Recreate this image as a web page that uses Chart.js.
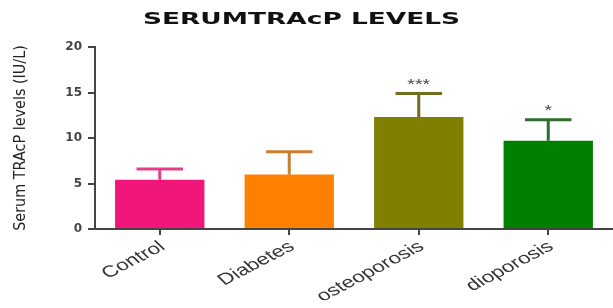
<!DOCTYPE html>
<html><head><meta charset="utf-8">
<script src="https://cdn.jsdelivr.net/npm/chart.js@4"></script>
<style>html,body{margin:0;padding:0;background:#fff}#wrap{width:613px;height:308px}</style>
</head><body><div id="wrap"><canvas id="c" width="613" height="308"></canvas></div>
<script>
const titleText = 'SERUMTRAcP LEVELS';
const yAxisTitle = 'Serum TRAcP levels (IU/L)';
const categories = ['Control', 'Diabetes', 'osteoporosis', 'dioporosis'];
const means = [5.4, 6.0, 12.3, 9.7];
const errors = [1.2, 2.5, 2.6, 2.3];
const significance = ['', '', '***', '*'];
const yTicks = [0, 5, 10, 15, 20];
const barColors = ['#f0167a', '#ff8000', '#808000', '#008000'];
const errColors = ['#e0408a', '#c88030', '#6e6e1e', '#2e6e2e'];

const extras = {
  id: 'extras',
  afterDatasetsDraw(chart) {
    const ctx = chart.ctx;
    const ys = chart.scales.y;
    const meta = chart.getDatasetMeta(0);
    meta.data.forEach((bar, i) => {
      const top = ys.getPixelForValue(means[i] + errors[i]);
      const half = bar.width * 0.26;
      ctx.save();
      ctx.strokeStyle = errColors[i];
      ctx.lineWidth = 3;
      ctx.beginPath();
      ctx.moveTo(bar.x, bar.y);
      ctx.lineTo(bar.x, top);
      ctx.moveTo(bar.x - half, top);
      ctx.lineTo(bar.x + half, top);
      ctx.stroke();
      if (significance[i]) {
        ctx.fillStyle = '#444';
        ctx.font = '15px "Liberation Sans", Arial';
        ctx.textAlign = 'center';
        ctx.textBaseline = 'bottom';
        ctx.translate(bar.x, top - 1);
        ctx.scale(1.3, 1);
        ctx.fillText(significance[i], 0, 0);
      }
      ctx.restore();
    });
  },
  afterDraw(chart) {
    const ctx = chart.ctx;
    // title
    ctx.save();
    ctx.font = 'bold 16px "DejaVu Sans"';
    ctx.fillStyle = '#111';
    ctx.textBaseline = 'middle';
    const w = ctx.measureText(titleText).width;
    const target = 317;
    ctx.translate(301.5 - target / 2, 20);
    ctx.scale(target / w, 1);
    ctx.fillText(titleText, 0, 0);
    ctx.restore();
    // x labels
    const xs = chart.scales.x;
    categories.forEach((c, i) => {
      const x = xs.getPixelForValue(i);
      ctx.save();
      ctx.font = '16px "Liberation Sans", Arial';
      ctx.fillStyle = '#333';
      ctx.textAlign = 'right';
      ctx.textBaseline = 'middle';
      ctx.translate(x + 3, xs.top + 16);
      ctx.scale(1.4, 1);
      ctx.rotate(-36 * Math.PI / 180);
      ctx.fillText(c, 0, 0);
      ctx.restore();
    });
  }
};

new Chart(document.getElementById('c'), {
  type: 'bar',
  data: {
    labels: categories,
    datasets: [{
      data: means,
      backgroundColor: barColors,
      borderWidth: 0,
      categoryPercentage: 1,
      barPercentage: 0.69
    }]
  },
  options: {
    responsive: false,
    animation: false,
    layout: { padding: { top: 47, left: 0, right: 0, bottom: 0 } },
    plugins: { legend: { display: false }, tooltip: { enabled: false }, title: { display: false } },
    scales: {
      x: {
        grid: { display: true, offset: false, drawOnChartArea: false, drawTicks: true, tickLength: 6, color: '#444', lineWidth: 2 },
        border: { display: true, color: '#444', width: 2 },
        ticks: { display: false },
        afterFit(s) { s.height = 79; }
      },
      y: {
        min: 0, max: 20,
        afterBuildTicks(s) { s.ticks = yTicks.map(v => ({ value: v })); },
        grid: { display: true, drawOnChartArea: false, drawTicks: true, tickLength: 7, color: '#444', lineWidth: 2 },
        border: { display: true, color: '#444', width: 2 },
        ticks: { color: '#444', font: { family: '"DejaVu Sans"', size: 12, weight: 'bold' }, padding: 6 },
        title: { display: true, text: yAxisTitle, color: '#222', font: { family: '"Liberation Sans Narrow", "DejaVu Sans Condensed", Arial', size: 16 }, padding: { top: 11, bottom: 0 } },
        afterFit(s) { s.width = 95; }
      }
    }
  },
  plugins: [extras]
});
</script></body></html>
